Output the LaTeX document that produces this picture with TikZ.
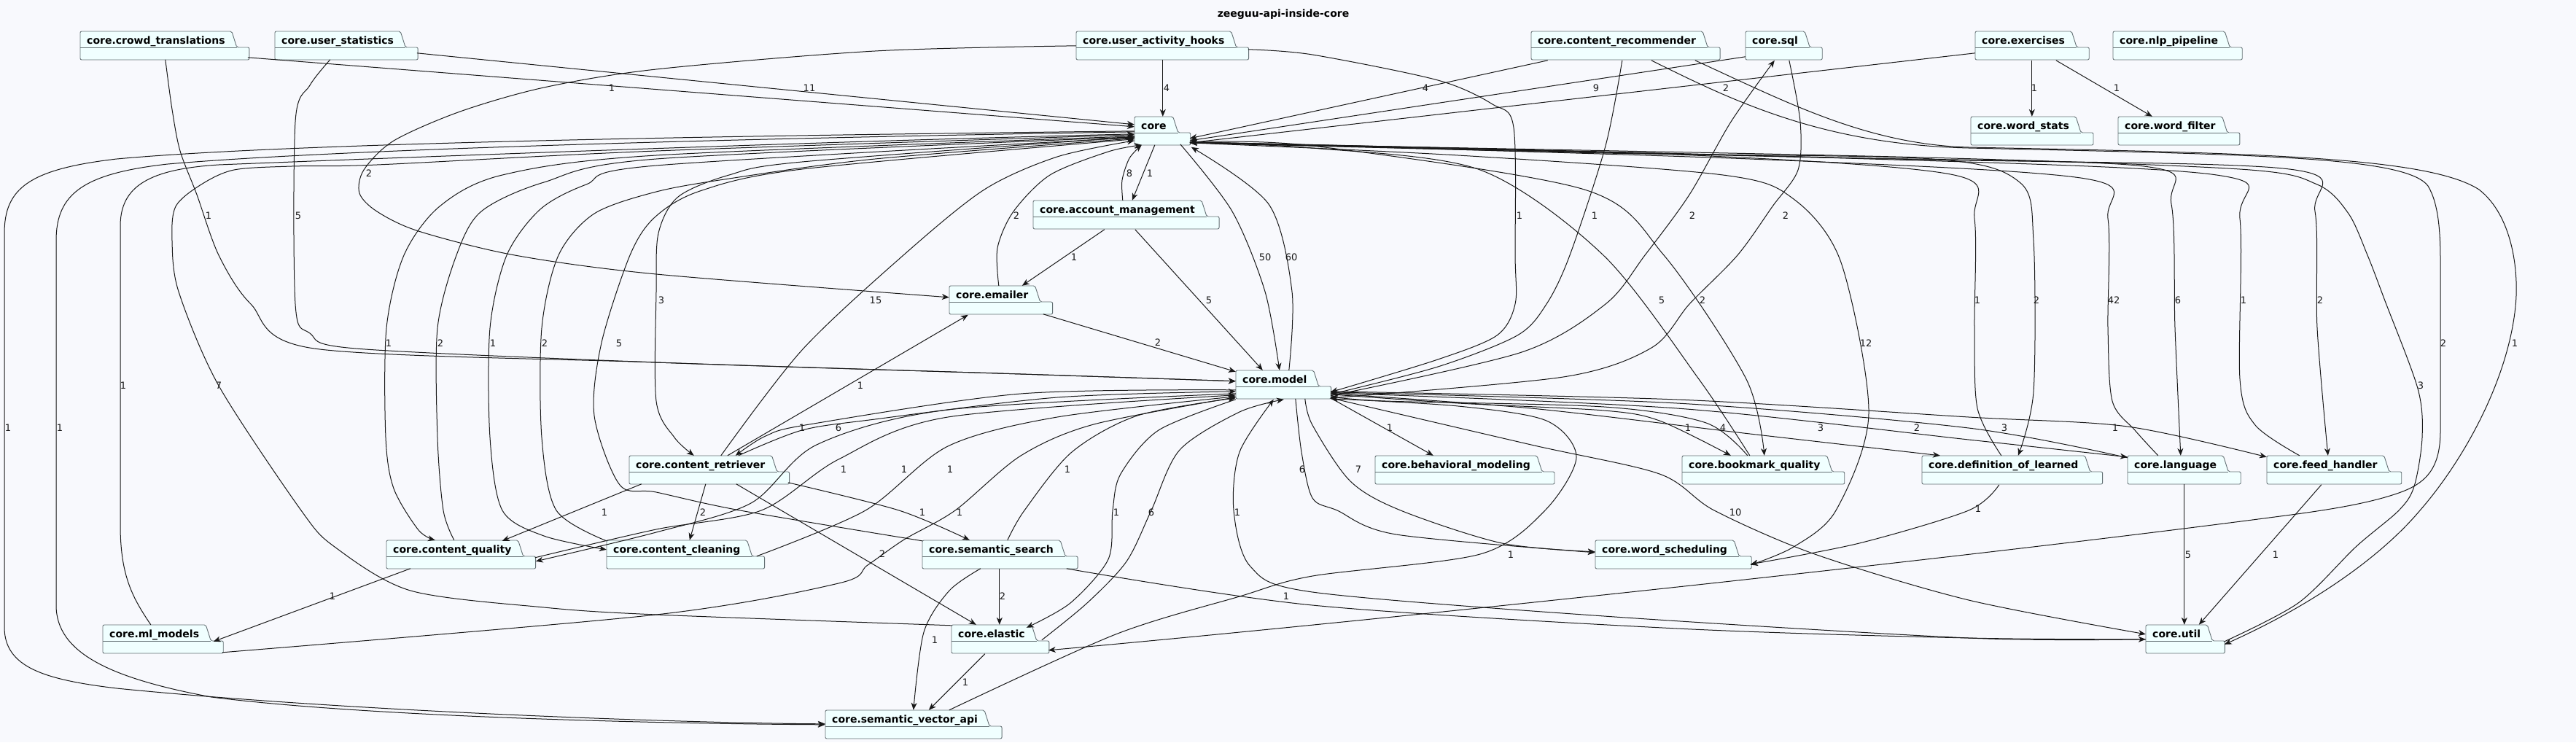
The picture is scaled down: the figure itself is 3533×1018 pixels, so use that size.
\documentclass[tikz,border=0pt]{standalone}
\usepackage{fontspec}
\setmainfont{DejaVu Sans}
\usetikzlibrary{arrows.meta,fit}
\definecolor{bgc}{RGB}{248,249,253}
\definecolor{pkgfill}{RGB}{240,255,255}
\definecolor{pkgborder}{RGB}{100,112,116}
\definecolor{edgec}{RGB}{24,24,24}
\tikzset{
  pkgtext/.style={anchor=base west, inner sep=0pt, font=\bfseries\fontsize{14}{16}\selectfont},
  pkgshape/.style={draw=pkgborder, fill=pkgfill, line width=0.9pt, rounded corners=2pt},
  pkgline/.style={draw=pkgborder, line width=0.9pt},
  dep/.style={draw=edgec, line width=1pt, -{Stealth[length=10pt,width=8pt,inset=3pt]}},
  lbl/.style={inner sep=0pt, font=\fontsize{13}{15}\selectfont, text=edgec},
  sm/.style={smooth, tension=0.5},
  titletext/.style={anchor=base, inner sep=0pt, font=\bfseries\fontsize{14}{16}\selectfont}
}
\newcommand\pkgbox[4]{%
  \coordinate (#1-o) at (#2,#3);
  \coordinate (#1-m) at (#2,#3+22);
  \coordinate (#1-b) at (#2,#3+39);
  \node[pkgtext] (#1-w) at (#2+9,#3+17) {\phantom{#4}};
  \coordinate (#1-p) at ([xshift=9pt]#1-w.base east);
  \coordinate (#1-q) at ([xshift=16pt]#1-w.base east);
  \coordinate (#1-r) at ([xshift=33pt]#1-w.base east);
  \coordinate (#1-se) at (#1-r |- #1-b);
  \filldraw[pkgshape] (#1-o) -- (#1-p |- #1-o) -- (#1-q |- #1-m) -- (#1-r |- #1-m) -- (#1-se) -- (#1-b) -- cycle;
  \draw[pkgline] (#1-m) -- (#1-q |- #1-m);
  \node[pkgtext] (#1-l) at (#2+9,#3+17) {#4};
  \node[fit=(#1-o)(#1-se), inner sep=0pt] (#1) {};
}
\begin{document}
\begin{tikzpicture}[x=1pt,y=-1pt]
\fill[bgc] (0,0) rectangle (3533,1018);
\useasboundingbox (0,0) rectangle (3533,1018);
\node[titletext] (title) at (1760,23) {zeeguu-api-inside-core};

\pkgbox{ct}{110}{43}{core.crowd\_translations}
\pkgbox{us}{377}{43}{core.user\_statistics}
\pkgbox{uah}{1476}{43}{core.user\_activity\_hooks}
\pkgbox{cr}{2100}{43}{core.content\_recommender}
\pkgbox{sql}{2394}{43}{core.sql}
\pkgbox{ex}{2709}{43}{core.exercises}
\pkgbox{nlp}{2898}{43}{core.nlp\_pipeline}
\pkgbox{core}{1556}{160}{core}
\pkgbox{ws}{2703}{160}{core.word\_stats}
\pkgbox{wf}{2905}{160}{core.word\_filter}
\pkgbox{am}{1417}{275}{core.account\_management}
\pkgbox{em}{1302}{392}{core.emailer}
\pkgbox{model}{1695}{508}{core.model}
\pkgbox{ret}{863}{625}{core.content\_retriever}
\pkgbox{bm}{1886}{625}{core.behavioral\_modeling}
\pkgbox{bq}{2307}{625}{core.bookmark\_quality}
\pkgbox{dol}{2636}{625}{core.definition\_of\_learned}
\pkgbox{lang}{2918}{625}{core.language}
\pkgbox{fh}{3109}{625}{core.feed\_handler}
\pkgbox{cq}{530}{741}{core.content\_quality}
\pkgbox{cc}{832}{741}{core.content\_cleaning}
\pkgbox{ss}{1265}{741}{core.semantic\_search}
\pkgbox{wsch}{2188}{741}{core.word\_scheduling}
\pkgbox{ml}{141}{857}{core.ml\_models}
\pkgbox{el}{1305}{857}{core.elastic}
\pkgbox{util}{2943}{857}{core.util}
\pkgbox{sva}{1132}{974}{core.semantic\_vector\_api}

% ---- edges touching core from above / right
\draw[dep] ([shift={(230,36)}]ct.north west) -- ([shift={(0,14)}]core.north west);
\draw[dep] ([shift={(195,30)}]us.north west) -- ([shift={(0,11)}]core.north west);
\draw[dep] ([shift={(119,39)}]uah.north west) -- ([shift={(39,0)}]core.north west);
\draw[dep] ([shift={(23,40)}]cr.north west) -- ([shift={(76,30)}]core.north west);
\draw[dep] ([shift={(0,35)}]sql.north west) -- ([shift={(76,33)}]core.north west);
\draw[dep] ([shift={(0,30)}]ex.north west) -- ([shift={(76,36)}]core.north west);
\draw[dep] plot[sm] coordinates {([shift={(93,0)}]bq.north west) (2330,520) (2199,350) (2030,233) (1800,203) ([shift={(76,36)}]core.north west)};
\draw[dep] plot[sm] coordinates {([shift={(76,35)}]core.north west) (1800,200) (2173,260) (2282,350) (2395,520) ([shift={(113,0)}]bq.north west)};
\draw[dep] plot[sm] coordinates {([shift={(76,36)}]core.north west) (2000,213) (2363,240) (2460,273) (2525,360) (2563,567) (2518,700) (2460,750) ([shift={(213,34)}]wsch.north west)};
\draw[dep] plot[sm] coordinates {([shift={(76,36)}]core.north west) (2200,210) (2650,218) (2770,250) (2789,330) (2789,537) ([shift={(132,0)}]dol.north west)};
\draw[dep] plot[sm] coordinates {([shift={(109,0)}]dol.north west) (2712,560) (2708,450) (2708,300) (2680,240) (2300,212) ([shift={(76,35)}]core.north west)};
\draw[dep] plot[sm] coordinates {([shift={(42,0)}]lang.north west) (2928,590) (2897,550) (2891,450) (2891,300) (2860,245) (2400,218) ([shift={(76,35)}]core.north west)};
\draw[dep] plot[sm] coordinates {([shift={(76,36)}]core.north west) (2450,215) (2940,228) (2978,280) (2983,450) ([shift={(73,0)}]lang.north west)};
\draw[dep] plot[sm] coordinates {([shift={(45,0)}]fh.north west) (3093,583) (3072,520) (3072,300) (3040,240) (2500,216) ([shift={(76,35)}]core.north west)};
\draw[dep] plot[sm] coordinates {([shift={(76,36)}]core.north west) (2600,218) (3140,232) (3175,290) (3178,450) ([shift={(84,0)}]fh.north west)};
\draw[dep] plot[sm] coordinates {([shift={(108,23)}]util.north west) (3152,827) (3231,750) (3290,700) (3311,667) (3322,600) (3316,533) (3270,410) (3247,350) (3221,293) (3178,253) (3072,232) (2600,215) ([shift={(76,36)}]core.north west)};
\draw[dep] ([shift={(165,40)}]cr.north west) .. controls (2380,140) and (2500,198) .. (2700,203)
  .. controls (3100,212) and (3300,215) .. (3330,255)
  .. controls (3345,280) and (3347,320) .. (3347,360) -- (3347,590)
  .. controls (3347,640) and (3330,662) .. (3290,676)
  .. controls (3250,690) and (3200,698) .. (3150,705)
  .. controls (2700,765) and (1900,850) .. ([shift={(133,35)}]el.north west);
\draw[dep] ([shift={(225,40)}]cr.north west) .. controls (2450,140) and (2560,198) .. (2700,202)
  .. controls (3100,210) and (3330,215) .. (3400,260)
  .. controls (3445,295) and (3455,370) .. (3450,420)
  .. controls (3440,520) and (3380,630) .. (3319,700)
  .. controls (3260,770) and (3160,835) .. ([shift={(108,27)}]util.north west);

% ---- edges touching core from the left / below
\draw[dep] ([shift={(0,20)}]core.north west) .. controls (1000,186) and (400,196) .. (160,218)
  .. controls (40,232) and (6,258) .. (6,320) -- (6,860)
  .. controls (6,915) and (60,932) .. (160,944)
  .. controls (480,976) and (950,992) .. ([shift={(0,19)}]sva.north west);
\draw[dep] ([shift={(0,21)}]core.north west) .. controls (1000,190) and (460,205) .. (230,225)
  .. controls (115,238) and (77,265) .. (77,330) -- (77,830)
  .. controls (77,895) and (150,930) .. (290,956)
  .. controls (520,985) and (950,993) .. ([shift={(0,20)}]sva.north west);
\draw[dep] ([shift={(66,0)}]ml.north west) .. controls (182,820) and (165,790) .. (165,720) -- (165,310)
  .. controls (165,255) and (205,232) .. (300,226)
  .. controls (650,212) and (1200,192) .. ([shift={(0,24)}]core.north west);
\draw[dep] plot[sm] coordinates {([shift={(0,1)}]el.north west) (900,843) (746,833) (563,810) (459,750) (413,700) (300,529) (245,400) (236,330) (241,283) (276,253) (321,233) (400,228) (517,226) (900,207) ([shift={(0,25)}]core.north west)};
\draw[dep] plot[sm] coordinates {([shift={(0,27)}]core.north west) (900,213) (689,240) (603,283) (554,350) (530,450) (529,600) (540,670) (574,727) ([shift={(67,0)}]cq.north west)};
\draw[dep] plot[sm] coordinates {([shift={(93,0)}]cq.north west) (608,700) (600,600) (600,450) (626,350) (660,290) (746,250) (900,218) ([shift={(0,28)}]core.north west)};
\draw[dep] plot[sm] coordinates {([shift={(0,29)}]core.north west) (900,227) (804,253) (741,287) (695,350) (672,450) (672,600) (689,700) (746,735) ([shift={(0,13)}]cc.north west)};
\draw[dep] plot[sm] coordinates {([shift={(0,1)}]cc.north west) (763,700) (743,600) (743,450) (766,350) (815,293) (900,263) (1000,245) (1200,218) ([shift={(0,30)}]core.north west)};
\draw[dep] plot[sm] coordinates {([shift={(0,1)}]ss.north west) (1015,700) (900,675) (850,665) (815,570) (825,470) (864,350) (898,298) (960,262) (1100,232) ([shift={(0,31)}]core.north west)};
\draw[dep] plot[sm] coordinates {([shift={(0,28)}]core.north west) (1100,222) (1000,240) (930,270) (903,320) (900,400) (900,550) (925,600) ([shift={(89,0)}]ret.north west)};
\draw[dep] plot[sm] coordinates {([shift={(126,0)}]ret.north west) (1100,480) (1239,350) (1350,260) (1450,215) ([shift={(0,33)}]core.north west)};
\draw[dep] plot[sm] coordinates {([shift={(68,0)}]em.north west) (1368,340) (1390,290) (1440,240) (1520,208) ([shift={(10,39)}]core.north west)};
\draw[dep] plot[sm] coordinates {([shift={(123,0)}]am.north west) (1539,247) (1549,217) ([shift={(10,39)}]core.north west)};
\draw[dep] ([shift={(28,39)}]core.north west) -- ([shift={(136,0)}]am.north west);
\draw[dep] plot[sm] coordinates {([shift={(0,20)}]uah.north west) (1200,70) (900,95) (746,120) (631,153) (540,193) (499,233) (493,265) (517,290) (574,317) (706,350) (900,376) ([shift={(0,16)}]em.north west)};

% ---- edges touching core.model
\draw[dep] plot[sm] coordinates {([shift={(117,39)}]ct.north west) (236,150) (247,207) (270,267) (300,350) (344,417) (431,478) (900,497) (1400,513) ([shift={(0,15)}]model.north west)};
\draw[dep] plot[sm] coordinates {([shift={(76,39)}]us.north west) (425,117) (405,167) (405,417) (425,457) (488,478) (900,497) (1400,513) ([shift={(0,15)}]model.north west)};
\draw[dep] ([shift={(98,40)}]am.north west) -- ([shift={(100,0)}]em.north west);
\draw[dep] ([shift={(140,40)}]am.north west) -- ([shift={(37,0)}]model.north west);
\draw[dep] plot[sm] coordinates {([shift={(63,38)}]core.north west) (1690,290) (1735,400) ([shift={(60,0)}]model.north west)};
\draw[dep] plot[sm] coordinates {([shift={(73,0)}]model.north west) (1772,400) (1740,280) ([shift={(78,42)}]core.north west)};
\draw[dep] ([shift={(129,39)}]em.north west) -- ([shift={(0,2)}]model.north west);
\draw[dep] ([shift={(135,0)}]ret.north west) -- ([shift={(26,40)}]em.north west);
\draw[dep] plot[sm] coordinates {([shift={(0,27)}]model.north west) (1400,540) (1110,582) (1050,598) ([shift={(146,0)}]ret.north west)};
\draw[dep] plot[sm] coordinates {([shift={(150,0)}]ret.north west) (1100,590) (1200,575) (1450,545) ([shift={(0,29)}]model.north west)};
\draw[dep] plot[sm] coordinates {([shift={(0,32)}]model.north west) (1300,562) (1120,610) (1030,690) (900,730) ([shift={(205,29)}]cq.north west)};
\draw[dep] plot[sm] coordinates {([shift={(204,24)}]cq.north west) (900,726) (1044,700) (1150,630) (1300,572) ([shift={(0,34)}]model.north west)};
\draw[dep] plot[sm] coordinates {([shift={(206,22)}]cc.north west) (1187,700) (1300,612) (1450,572) ([shift={(0,36)}]model.north west)};
\draw[dep] plot[sm] coordinates {([shift={(164,38)}]ml.north west) (900,843) (1150,800) (1190,775) (1240,740) (1310,700) (1400,625) (1500,582) ([shift={(0,37)}]model.north west)};
\draw[dep] plot[sm] coordinates {([shift={(117,0)}]ss.north west) (1405,700) (1470,620) (1560,570) ([shift={(0,38)}]model.north west)};
\draw[dep] plot[sm] coordinates {([shift={(0,40)}]model.north west) (1589,590) (1537,650) (1526,700) (1520,767) (1468,827) ([shift={(103,4)}]el.north west)};
\draw[dep] plot[sm] coordinates {([shift={(124,21)}]el.north west) (1491,827) (1545,770) (1579,700) (1618,617) (1700,565) ([shift={(66,40)}]model.north west)};
\draw[dep] plot[sm] coordinates {([shift={(0,20)}]util.north west) (2700,875) (2200,845) (1800,812) (1715,777) (1692,700) (1700,620) ([shift={(52,40)}]model.north west)};
\draw[dep] plot[sm] coordinates {([shift={(130,38)}]model.north west) (2100,610) (2276,650) (2351,700) (2489,760) (2700,823) ([shift={(0,13)}]util.north west)};
\draw[dep] plot[sm] coordinates {([shift={(198,39)}]ss.north west) (1800,830) (2300,862) (2700,875) ([shift={(0,20)}]util.north west)};
\draw[dep] plot[sm] coordinates {([shift={(170,0)}]sva.north west) (1530,870) (1700,818) (1800,790) (2030,760) (2119,700) (2162,627) (2121,577) (2000,557) ([shift={(130,39)}]model.north west)};
\draw[dep] plot[sm] coordinates {([shift={(95,39)}]model.north west) (1800,583) (1852,660) (1921,700) (2060,745) ([shift={(0,16)}]wsch.north west)};
\draw[dep] plot[sm] coordinates {([shift={(82,39)}]model.north west) (1785,620) (1800,683) (1834,700) (1915,733) ([shift={(0,17)}]wsch.north west)};
\draw[dep] ([shift={(130,38)}]model.north west) -- ([shift={(80,0)}]bm.north west);
\draw[dep] plot[sm] coordinates {([shift={(130,33)}]model.north west) (2000,553) (2200,563) (2276,577) ([shift={(67,0)}]bq.north west)};
\draw[dep] plot[sm] coordinates {([shift={(90,0)}]bq.north west) (2340,580) (2200,558) (1900,550) ([shift={(130,36)}]model.north west)};
\draw[dep] plot[sm] coordinates {([shift={(130,32)}]model.north west) (2100,560) (2400,595) ([shift={(25,0)}]dol.north west)};
\draw[dep] plot[sm] coordinates {([shift={(130,31)}]model.north west) (2300,560) (2700,603) ([shift={(0,2)}]lang.north west)};
\draw[dep] plot[sm] coordinates {([shift={(0,3)}]lang.north west) (2700,587) (2300,553) ([shift={(130,30)}]model.north west)};
\draw[dep] plot[sm] coordinates {([shift={(130,29)}]model.north west) (2300,548) (2700,572) (2918,585) ([shift={(0,2)}]fh.north west)};
\draw[dep] plot[sm] coordinates {([shift={(236,25)}]uah.north west) (1800,75) (1972,110) (2047,143) (2076,175) (2078,350) (2078,417) (2053,460) (1972,493) ([shift={(130,30)}]model.north west)};
\draw[dep] plot[sm] coordinates {([shift={(125,40)}]cr.north west) (2202,200) (2153,350) (2121,417) (2081,460) (1972,503) ([shift={(130,33)}]model.north west)};
\draw[dep] plot[sm] coordinates {([shift={(130,35)}]model.north west) (2087,483) (2202,417) (2256,350) (2317,267) (2374,167) ([shift={(40,40)}]sql.north west)};
\draw[dep] plot[sm] coordinates {([shift={(60,40)}]sql.north west) (2469,167) (2466,233) (2431,283) (2383,350) (2317,417) (2265,477) (2144,517) ([shift={(130,38)}]model.north west)};
\draw[dep] plot[sm] coordinates {([shift={(106,40)}]dol.north west) (2700,700) (2550,745) ([shift={(213,33)}]wsch.north west)};
\draw[dep] ([shift={(78,39)}]lang.north west) -- ([shift={(53,0)}]util.north west);
\draw[dep] ([shift={(75,40)}]fh.north west) -- ([shift={(73,0)}]util.north west);

% ---- lower left group
\draw[dep] ([shift={(17,39)}]ret.north west) -- ([shift={(159,1)}]cq.north west);
\draw[dep] ([shift={(105,39)}]ret.north west) -- ([shift={(114,0)}]cc.north west);
\draw[dep] plot[sm] coordinates {([shift={(218,37)}]ret.north west) (1233,700) ([shift={(65,0)}]ss.north west)};
\draw[dep] ([shift={(147,39)}]ret.north west) -- ([shift={(34,0)}]el.north west);
\draw[dep] ([shift={(33,39)}]cq.north west) -- ([shift={(152,23)}]ml.north west);
\draw[dep] ([shift={(106,39)}]ss.north west) -- ([shift={(66,0)}]el.north west);
\draw[dep] plot[sm] coordinates {([shift={(80,39)}]ss.north west) (1302,810) (1267,867) ([shift={(121,0)}]sva.north west)};
\draw[dep] ([shift={(46,40)}]el.north west) -- ([shift={(142,0)}]sva.north west);

% ---- exercises
\draw[dep] ([shift={(78,40)}]ex.north west) -- ([shift={(84,0)}]ws.north west);
\draw[dep] ([shift={(111,40)}]ex.north west) -- ([shift={(47,0)}]wf.north west);

% ---- labels
\node[lbl] (la1) at (839,121) {1};
\node[lbl] (la2) at (1110,121) {11};
\node[lbl] (la3) at (1600,121) {4};
\node[lbl] (la4) at (1955,121) {4};
\node[lbl] (la5) at (2189,121) {9};
\node[lbl] (la6) at (2367,121) {2};
\node[lbl] (la7) at (2279,412) {5};
\node[lbl] (la8) at (2335,412) {2};
\node[lbl] (la9) at (2559,471) {12};
\node[lbl] (la10) at (2793,412) {2};
\node[lbl] (la11) at (2712,412) {1};
\node[lbl] (la12) at (2899,412) {42};
\node[lbl] (la13) at (2987,412) {6};
\node[lbl] (la14) at (3077,412) {1};
\node[lbl] (la15) at (3182,412) {2};
\node[lbl] (la16) at (3320,529) {3};
\node[lbl] (la17) at (3351,471) {2};
\node[lbl] (la18) at (3449,471) {1};
\node[lbl] (lb1) at (11,587) {1};
\node[lbl] (lb2) at (82,587) {1};
\node[lbl] (lb3) at (169,529) {1};
\node[lbl] (lb4) at (300,529) {7};
\node[lbl] (lb5) at (533,471) {1};
\node[lbl] (lb6) at (604,471) {2};
\node[lbl] (lb7) at (676,471) {1};
\node[lbl] (lb8) at (747,471) {2};
\node[lbl] (lb9) at (849,471) {5};
\node[lbl] (lb10) at (907,412) {3};
\node[lbl] (lb11) at (1201,412) {15};
\node[lbl] (lb12) at (1394,296) {2};
\node[lbl] (lb13) at (1549,238) {8};
\node[lbl] (lb14) at (1577,238) {1};
\node[lbl] (lb15) at (506,238) {2};
\node[lbl] (lc1) at (286,296) {1};
\node[lbl] (lc2) at (409,296) {5};
\node[lbl] (lc3) at (1473,353) {1};
\node[lbl] (lc4) at (1658,412) {5};
\node[lbl] (lc5) at (1735,353) {50};
\node[lbl] (lc6) at (1771,353) {60};
\node[lbl] (lc7) at (1588,470) {2};
\node[lbl] (lc8) at (1180,529) {1};
\node[lbl] (lc9) at (1100,587) {1};
\node[lbl] (lc10) at (1150,587) {6};
\node[lbl] (lc11) at (1157,644) {1};
\node[lbl] (lc12) at (1240,644) {1};
\node[lbl] (lc13) at (1303,644) {1};
\node[lbl] (lc14) at (1316,703) {1};
\node[lbl] (lc15) at (1464,644) {1};
\node[lbl] (lc16) at (1531,703) {1};
\node[lbl] (lc17) at (1579,703) {6};
\node[lbl] (lc18) at (1697,703) {1};
\node[lbl] (lc19) at (2380,703) {10};
\node[lbl] (lc20) at (1764,818) {1};
\node[lbl] (lc21) at (2072,761) {1};
\node[lbl] (lc22) at (1863,644) {7};
\node[lbl] (lc23) at (1786,644) {6};
\node[lbl] (lc24) at (1906,587) {1};
\node[lbl] (lc25) at (2315,587) {1};
\node[lbl] (lc26) at (2363,587) {4};
\node[lbl] (lc27) at (2497,587) {3};
\node[lbl] (lc28) at (2749,587) {3};
\node[lbl] (lc29) at (2629,587) {2};
\node[lbl] (lc30) at (2901,587) {1};
\node[lbl] (lc31) at (2084,296) {1};
\node[lbl] (lc32) at (2187,296) {1};
\node[lbl] (lc33) at (2321,296) {2};
\node[lbl] (lc34) at (2449,296) {2};
\node[lbl] (lc35) at (2713,698) {1};
\node[lbl] (lc36) at (3001,761) {5};
\node[lbl] (lc37) at (3121,761) {1};
\node[lbl] (ld1) at (829,703) {1};
\node[lbl] (ld2) at (964,703) {2};
\node[lbl] (ld3) at (1265,703) {1};
\node[lbl] (ld4) at (1210,760) {2};
\node[lbl] (ld5) at (456,818) {1};
\node[lbl] (ld6) at (1375,818) {2};
\node[lbl] (ld7) at (1282,878) {1};
\node[lbl] (ld8) at (1324,936) {1};
\node[lbl] (le1) at (2790,121) {1};
\node[lbl] (le2) at (2903,121) {1};
\end{tikzpicture}
\end{document}
